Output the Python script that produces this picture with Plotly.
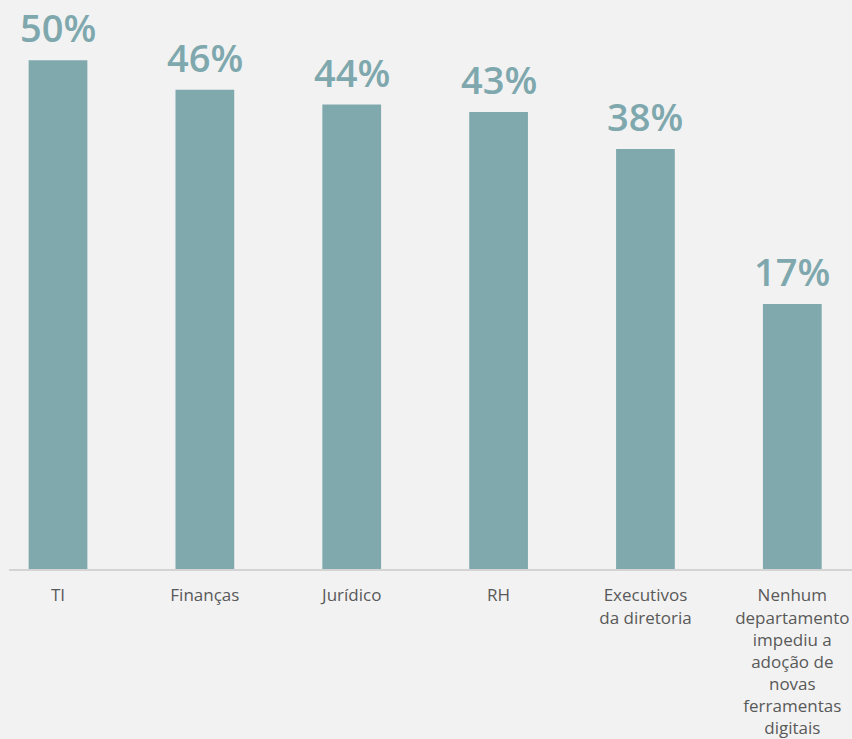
import plotly.graph_objects as go

categories = ["TI", "Finanças", "Jurídico", "RH", "Executivos<br>da diretoria",
              "Nenhum<br>departamento<br>impediu a<br>adoção de<br>novas<br>ferramentas<br>digitais"]
values = [50, 46, 44, 43, 38, 17]
labels = ["50%", "46%", "44%", "43%", "38%", "17%"]

Y_MIN = -18.85
Y_MAX = 58.15
BAR = "#80a9ae"
BG = "#f2f2f2"

xs = list(range(len(categories)))

fig = go.Figure()
fig.add_trace(go.Bar(
    x=xs, y=[v - Y_MIN for v in values], base=Y_MIN,
    marker=dict(color=BAR, line=dict(width=0)),
    width=0.40, hoverinfo="skip",
))
for x, v, t in zip(xs, values, labels):
    fig.add_annotation(x=x, y=v, text=t, showarrow=False, yanchor="bottom",
                       yshift=5, font=dict(family="Open Sans", size=38, color="#7ea8ad", weight=600))

fig.update_layout(
    width=852, height=739,
    margin=dict(l=0, r=0, t=0, b=170, autoexpand=False),
    paper_bgcolor=BG, plot_bgcolor=BG,
    showlegend=False,
    xaxis=dict(domain=[9 / 852, 1], range=[-0.3337, 5.4065], tickvals=xs, ticktext=categories,
               showgrid=False, zeroline=False, showline=True, linecolor="#d4d4d4", linewidth=2,
               tickfont=dict(family="Open Sans", size=17, color="#595959"), ticks="",
               ticklabelstandoff=10, automargin=False, fixedrange=True),
    yaxis=dict(range=[Y_MIN, Y_MAX], visible=False, fixedrange=True),
)
fig.write_html("out.html", config={"displayModeBar": False},
               post_script="document.body.style.margin='0';document.body.style.padding='0';")
